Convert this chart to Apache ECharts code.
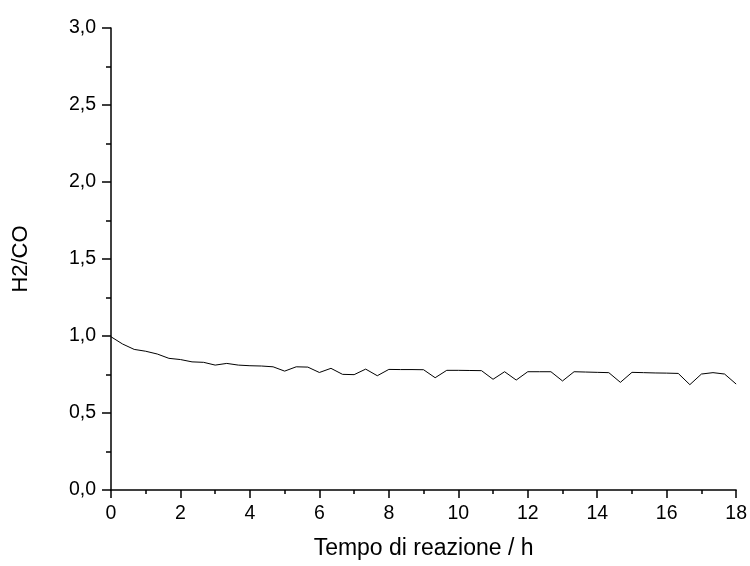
<!DOCTYPE html>
<html>
<head>
<meta charset="utf-8">
<script src="https://cdn.jsdelivr.net/npm/echarts@6/dist/echarts.min.js"></script>
<style>html,body{margin:0;padding:0;background:#fff}#c{width:750px;height:566px}</style>
</head>
<body>
<div id="c"></div>
<script>
// time in hours (every 20 minutes)
const timeHours = [0,0.333,0.667,1,1.333,1.667,2,2.333,2.667,3,3.333,3.667,4,4.333,4.667,5,5.333,5.667,6,6.333,6.667,7,7.333,7.667,8,8.333,8.667,9,9.333,9.667,10,10.333,10.667,11,11.333,11.667,12,12.333,12.667,13,13.333,13.667,14,14.333,14.667,15,15.333,15.667,16,16.333,16.667,17,17.333,17.667,18];
const ratioH2CO = [0.995,0.948,0.913,0.901,0.883,0.855,0.847,0.832,0.829,0.811,0.822,0.811,0.807,0.805,0.800,0.772,0.800,0.798,0.763,0.790,0.751,0.749,0.785,0.742,0.783,0.782,0.782,0.781,0.729,0.777,0.777,0.776,0.775,0.719,0.768,0.714,0.768,0.768,0.768,0.708,0.768,0.766,0.764,0.762,0.699,0.764,0.762,0.760,0.759,0.757,0.684,0.753,0.762,0.753,0.688];
const xTitle = 'Tempo di reazione / h';
const yTitle = 'H2/CO';

const data = timeHours.map((t, i) => [t, ratioH2CO[i]]);
const font = 'Liberation Sans, Arial, sans-serif';
const chart = echarts.init(document.getElementById('c'));
chart.setOption({
  animation: false,
  backgroundColor: '#fff',
  grid: { left: 111, right: 12, top: 28, bottom: 76, containLabel: false },
  xAxis: {
    type: 'value', min: 0, max: 18, interval: 2,
    name: xTitle, nameLocation: 'middle', nameGap: 47,
    nameTextStyle: { fontFamily: font, fontSize: 23, color: '#000' },
    axisLine: { show: true, onZero: false, lineStyle: { color: '#000', width: 1.5 } },
    axisTick: { show: true, inside: false, length: 8, lineStyle: { color: '#000', width: 1.5 } },
    minorTick: { show: true, splitNumber: 2, length: 4, lineStyle: { color: '#000', width: 1.5 } },
    axisLabel: { margin: 14, fontFamily: font, fontSize: 19.5, color: '#000' },
    splitLine: { show: false }
  },
  yAxis: {
    type: 'value', min: 0, max: 3, interval: 0.5,
    name: yTitle, nameLocation: 'middle', nameGap: 79, nameRotate: 90,
    nameTextStyle: { fontFamily: font, fontSize: 22, color: '#000' },
    axisLine: { show: true, onZero: false, lineStyle: { color: '#000', width: 1.5 } },
    axisTick: { show: true, inside: false, length: 9, lineStyle: { color: '#000', width: 1.5 } },
    minorTick: { show: true, splitNumber: 2, length: 5, lineStyle: { color: '#000', width: 1.5 } },
    axisLabel: { margin: 15, fontFamily: font, fontSize: 19.5, color: '#000',
      formatter: v => v.toFixed(1).replace('.', ',') },
    splitLine: { show: false }
  },
  series: [{
    type: 'line', data: data, showSymbol: false, symbol: 'none',
    lineStyle: { color: '#000', width: 1 }
  }]
});
</script>
</body>
</html>
